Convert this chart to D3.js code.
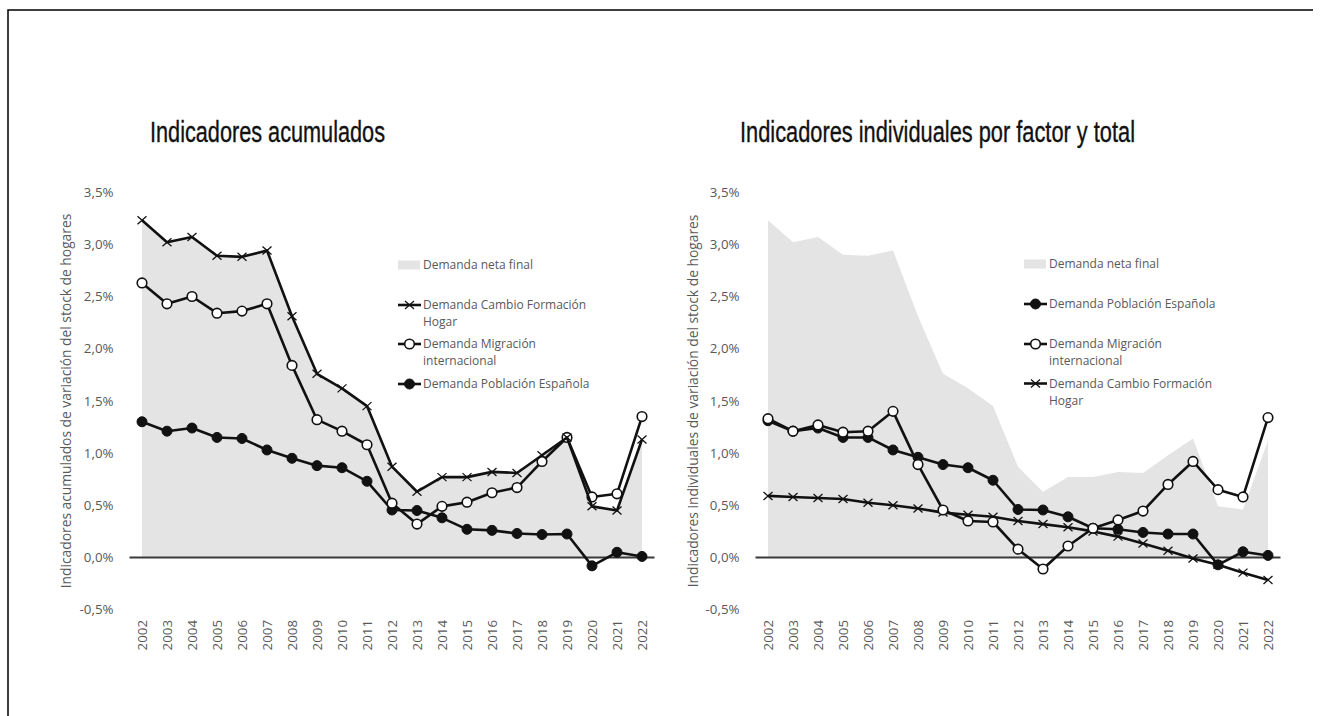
<!DOCTYPE html>
<html>
<head>
<meta charset="utf-8">
<script src="https://cdn.jsdelivr.net/npm/d3@7"></script>
<style>
  html, body { margin: 0; padding: 0; background: #fff; }
  svg { display: block; }
</style>
</head>
<body>
<svg id="chart" width="1323" height="716"></svg>
<script>
// ---------- DATA ----------
const years = ["2002","2003","2004","2005","2006","2007","2008","2009","2010","2011","2012",
               "2013","2014","2015","2016","2017","2018","2019","2020","2021","2022"];

// Demanda neta final (area, both charts)
const demandaNeta = [3.23,3.02,3.07,2.90,2.89,2.94,2.31,1.76,1.62,1.45,0.87,0.63,0.77,0.77,0.82,0.81,0.98,1.14,0.49,0.46,1.12];

// Left chart: cumulative indicators
const acumCambio    = [3.23,3.02,3.07,2.89,2.88,2.94,2.31,1.76,1.62,1.45,0.87,0.63,0.77,0.77,0.82,0.81,0.98,1.15,0.49,0.45,1.13];
const acumMigracion = [2.63,2.43,2.50,2.34,2.36,2.43,1.84,1.32,1.21,1.08,0.52,0.32,0.49,0.53,0.62,0.67,0.92,1.15,0.58,0.61,1.35];
const acumPoblacion = [1.30,1.21,1.24,1.15,1.14,1.03,0.95,0.88,0.86,0.73,0.455,0.45,0.38,0.27,0.26,0.23,0.22,0.225,-0.08,0.05,0.01];

// Right chart: individual indicators
const indPoblacion = [1.31,1.21,1.24,1.15,1.15,1.03,0.96,0.89,0.86,0.74,0.46,0.455,0.39,0.28,0.27,0.24,0.225,0.225,-0.07,0.055,0.02];
const indMigracion = [1.33,1.21,1.27,1.20,1.21,1.40,0.89,0.455,0.35,0.34,0.08,-0.11,0.11,0.28,0.36,0.445,0.70,0.92,0.65,0.58,1.34];
const indCambio    = [0.59,0.58,0.57,0.56,0.525,0.50,0.47,0.43,0.41,0.39,0.35,0.32,0.29,0.25,0.20,0.135,0.065,-0.01,-0.07,-0.145,-0.215];

const yTicks = [-0.5,0,0.5,1,1.5,2,2.5,3,3.5];

const titleLeft  = "Indicadores acumulados";
const titleRight = "Indicadores individuales por factor y total";
const yTitleLeft  = "Indicadores acumulados de variación del stock de hogares";
const yTitleRight = "Indicadores individuales de variación del stock de hogares";

const nameNeta = "Demanda neta final";
const nameCambio = ["Demanda Cambio Formación", "Hogar"];
const nameMigr = ["Demanda Migración", "internacional"];
const namePobl = ["Demanda Población Española"];

// ---------- STYLE ----------
const AREA = "#e4e4e4";
const INK = "#111111";
const TXT = "#595959";
const FONT = "'Open Sans', 'DejaVu Sans', sans-serif";

const locale = d3.formatLocale({decimal: ",", thousands: ".", grouping: [3], currency: ["", "€"], minus: "-"});
const fmt = v => locale.format(".1f")(v) + "%";

const svg = d3.select("#chart");

// frame
svg.append("path").attr("d", "M8,716 L8,10 L1313,10")
  .attr("fill", "none").attr("stroke", "#000").attr("stroke-width", 1.5);

function drawMarker(g, type, cx, cy) {
  if (type === "x") {
    g.append("path")
      .attr("d", `M${cx-4.5},${cy-4} L${cx+4.5},${cy+4} M${cx-4.5},${cy+4} L${cx+4.5},${cy-4}`)
      .attr("stroke", INK).attr("stroke-width", 1.3).attr("fill", "none");
  } else if (type === "open") {
    g.append("circle").attr("cx", cx).attr("cy", cy).attr("r", 4.8)
      .attr("fill", "#fff").attr("stroke", INK).attr("stroke-width", 1.6);
  } else {
    g.append("circle").attr("cx", cx).attr("cy", cy).attr("r", 5)
      .attr("fill", INK).attr("stroke", INK).attr("stroke-width", 1);
  }
}

function drawPanel(opts) {
  const g = svg.append("g");
  const x = d3.scaleBand().domain(years).range(opts.xRange).padding(0);
  const cx = d => x(d) + x.bandwidth() / 2;
  const y = d3.scaleLinear().domain([-0.5, 3.5]).range([609.7, 192.1]);

  // area
  const area = d3.area().x((d, i) => cx(years[i])).y0(y(0)).y1(d => y(d));
  g.append("path").datum(demandaNeta).attr("d", area).attr("fill", AREA);

  // zero line
  g.append("line")
    .attr("x1", opts.xRange[0]).attr("x2", opts.xRange[1])
    .attr("y1", y(0)).attr("y2", y(0))
    .attr("stroke", "#3a3a3a").attr("stroke-width", 1.8);

  // y axis
  const ya = g.append("g").attr("transform", `translate(${opts.xRange[0]},0)`)
    .call(d3.axisLeft(y).tickValues(yTicks).tickFormat(fmt).tickSize(0).tickPadding(16));
  ya.select(".domain").remove();
  ya.selectAll("text").attr("font-family", FONT).attr("font-size", 13.3).attr("fill", TXT);

  // x axis
  const xa = g.append("g").attr("transform", "translate(0,620)")
    .call(d3.axisBottom(x).tickSize(0).tickPadding(0));
  xa.select(".domain").remove();
  xa.selectAll("text")
    .attr("font-family", FONT).attr("font-size", 13.3).attr("fill", TXT)
    .attr("transform", "rotate(-90)").attr("text-anchor", "end")
    .attr("x", 0).attr("y", 0).attr("dy", "0.35em");

  // y title
  g.append("text")
    .attr("transform", `translate(${opts.yTitleX},401) rotate(-90)`)
    .attr("text-anchor", "middle").attr("dy", "0.35em")
    .attr("font-family", FONT).attr("font-size", 13.8).attr("fill", TXT)
    .text(opts.yTitle);

  // title
  g.append("text")
    .attr("x", opts.titleX).attr("y", 141.5)
    .attr("font-family", "'Liberation Sans', Arial, sans-serif").attr("font-size", 29.5)
    .attr("textLength", opts.titleLen).attr("lengthAdjust", "spacingAndGlyphs")
    .attr("fill", INK).attr("stroke", INK).attr("stroke-width", 0.35).text(opts.title);

  // series
  const line = d3.line().x((d, i) => cx(years[i])).y(d => y(d));
  opts.series.forEach(s => {
    g.append("path").datum(s.values).attr("d", line)
      .attr("fill", "none").attr("stroke", INK).attr("stroke-width", 2.6)
      .attr("stroke-linejoin", "round");
    const mg = g.append("g");
    s.values.forEach((v, i) => drawMarker(mg, s.marker, cx(years[i]), y(v)));
  });

  // legend
  const lg = g.append("g");
  const lx = opts.legendX;
  lg.append("rect").attr("x", lx).attr("y", opts.legendNetaY - 4.5)
    .attr("width", 22).attr("height", 9).attr("fill", AREA);
  lg.append("text").attr("x", lx + 25).attr("y", opts.legendNetaY).attr("dy", "0.35em")
    .attr("font-family", FONT).attr("font-size", 12).attr("fill", TXT).text(nameNeta);
  opts.legend.forEach(it => {
    lg.append("line").attr("x1", lx).attr("x2", lx + 23).attr("y1", it.y).attr("y2", it.y)
      .attr("stroke", INK).attr("stroke-width", 2.6);
    drawMarker(lg, it.marker, lx + 11.5, it.y);
    it.label.forEach((t, k) => {
      lg.append("text").attr("x", lx + 25).attr("y", it.y + k * 16.8).attr("dy", "0.35em")
        .attr("font-family", FONT).attr("font-size", 12).attr("fill", TXT).text(t);
    });
  });
}

drawPanel({
  xRange: [129.5, 654.5],
  yTitleX: 66.5,
  yTitle: yTitleLeft,
  titleX: 150, titleLen: 235, title: titleLeft,
  series: [
    {values: acumPoblacion, marker: "filled"},
    {values: acumMigracion, marker: "open"},
    {values: acumCambio, marker: "x"}
  ],
  legendX: 398, legendNetaY: 265,
  legend: [
    {y: 305, marker: "x", label: nameCambio},
    {y: 344, marker: "open", label: nameMigr},
    {y: 384, marker: "filled", label: namePobl}
  ]
});

drawPanel({
  xRange: [755.5, 1280.5],
  yTitleX: 693,
  yTitle: yTitleRight,
  titleX: 740, titleLen: 395, title: titleRight,
  series: [
    {values: indCambio, marker: "x"},
    {values: indPoblacion, marker: "filled"},
    {values: indMigracion, marker: "open"}
  ],
  legendX: 1024, legendNetaY: 264,
  legend: [
    {y: 304, marker: "filled", label: namePobl},
    {y: 344, marker: "open", label: nameMigr},
    {y: 383.5, marker: "x", label: nameCambio}
  ]
});
</script>
</body>
</html>
